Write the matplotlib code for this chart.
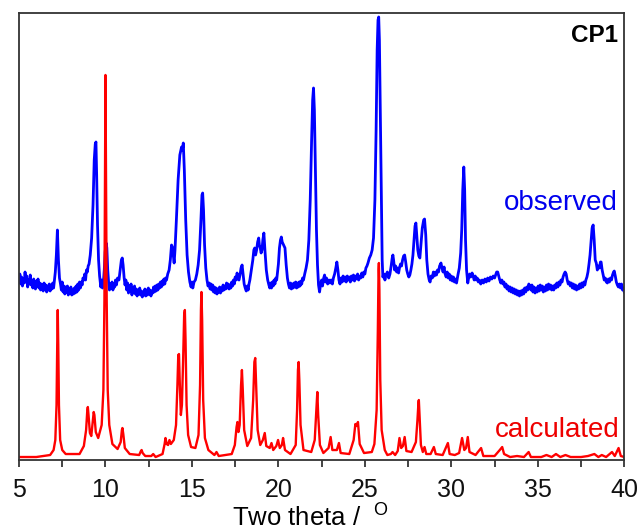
import matplotlib
matplotlib.use("Agg")
import matplotlib.pyplot as plt
from matplotlib.ticker import MultipleLocator

plt.rcParams["font.family"] = ["Liberation Sans", "DejaVu Sans"]
plt.rcParams["mathtext.fontset"] = "custom"
plt.rcParams["mathtext.rm"] = "Liberation Sans"

# 2theta (deg), intensity (arb. units)
observed = [
    (5.00, 180), (5.05, 186), (5.10, 176), (5.15, 183), (5.20, 174), (5.25, 181),
    (5.30, 177), (5.35, 188), (5.40, 178), (5.45, 184), (5.50, 173), (5.55, 180),
    (5.60, 176), (5.65, 185), (5.70, 175), (5.75, 179), (5.80, 172), (5.85, 181),
    (5.90, 176), (5.95, 171), (6.00, 179), (6.05, 174), (6.10, 181), (6.15, 172),
    (6.20, 177), (6.25, 170), (6.30, 176), (6.35, 173), (6.40, 169), (6.45, 177),
    (6.50, 171), (6.55, 175), (6.60, 168), (6.65, 174), (6.70, 170), (6.75, 176),
    (6.80, 169), (6.85, 175), (6.90, 171), (6.95, 177), (7.00, 172), (7.05, 180),
    (7.10, 188), (7.16, 205), (7.22, 230), (7.28, 200), (7.34, 182), (7.40, 176),
    (7.45, 170), (7.50, 178), (7.55, 168), (7.60, 174), (7.65, 166), (7.70, 173),
    (7.75, 168), (7.80, 174), (7.85, 165), (7.90, 171), (7.95, 167), (8.00, 173),
    (8.05, 165), (8.10, 170), (8.15, 166), (8.20, 172), (8.25, 167), (8.30, 174),
    (8.35, 168), (8.40, 176), (8.45, 170), (8.50, 178), (8.55, 172), (8.60, 178),
    (8.65, 175), (8.70, 182), (8.75, 180), (8.80, 186), (8.85, 180), (8.90, 190),
    (8.95, 188), (9.00, 194), (9.05, 196), (9.12, 205), (9.20, 222), (9.28, 255),
    (9.35, 300), (9.41, 316), (9.45, 318), (9.49, 285), (9.54, 235), (9.60, 200),
    (9.66, 184), (9.73, 173), (9.78, 180), (9.83, 172), (9.88, 178), (9.93, 190),
    (9.98, 208), (10.04, 217), (10.08, 212), (10.13, 190), (10.18, 178), (10.23, 170),
    (10.28, 176), (10.33, 172), (10.38, 178), (10.43, 170), (10.48, 176), (10.53, 173),
    (10.58, 180), (10.63, 175), (10.70, 182), (10.78, 180), (10.85, 190), (10.92, 200),
    (10.97, 202), (11.02, 195), (11.08, 182), (11.13, 175), (11.18, 180), (11.23, 170),
    (11.28, 177), (11.33, 167), (11.38, 174), (11.43, 169), (11.48, 176), (11.53, 165),
    (11.58, 172), (11.63, 168), (11.68, 174), (11.73, 166), (11.78, 171), (11.83, 164),
    (11.88, 170), (11.93, 166), (11.98, 172), (12.03, 165), (12.08, 169), (12.13, 163),
    (12.18, 168), (12.23, 165), (12.28, 171), (12.33, 164), (12.38, 170), (12.43, 165),
    (12.48, 172), (12.53, 166), (12.58, 170), (12.63, 164), (12.68, 169), (12.73, 167),
    (12.78, 173), (12.83, 168), (12.88, 174), (12.93, 169), (12.98, 175), (13.03, 170),
    (13.08, 176), (13.13, 172), (13.18, 178), (13.23, 173), (13.28, 179), (13.33, 175),
    (13.38, 181), (13.43, 176), (13.48, 182), (13.53, 180), (13.60, 186), (13.68, 190),
    (13.75, 200), (13.82, 215), (13.87, 213), (13.92, 205), (13.97, 197), (14.02, 210),
    (14.10, 240), (14.20, 280), (14.30, 305), (14.40, 313), (14.45, 310), (14.50, 317),
    (14.56, 290), (14.64, 240), (14.72, 205), (14.80, 188), (14.88, 178), (14.95, 173),
    (15.00, 178), (15.05, 172), (15.12, 178), (15.20, 180), (15.28, 186), (15.36, 195),
    (15.44, 210), (15.52, 240), (15.58, 265), (15.62, 267), (15.67, 250), (15.73, 215),
    (15.80, 192), (15.87, 180), (15.93, 174), (16.00, 177), (16.05, 171), (16.10, 176),
    (16.15, 170), (16.20, 175), (16.25, 168), (16.30, 173), (16.35, 167), (16.40, 172),
    (16.45, 166), (16.50, 171), (16.55, 168), (16.60, 173), (16.65, 167), (16.70, 172),
    (16.75, 169), (16.80, 175), (16.85, 170), (16.90, 174), (16.95, 171), (17.00, 177),
    (17.05, 172), (17.10, 176), (17.15, 171), (17.20, 175), (17.25, 172), (17.30, 178),
    (17.35, 174), (17.40, 180), (17.45, 176), (17.50, 183), (17.56, 180), (17.61, 187),
    (17.66, 182), (17.72, 180), (17.78, 185), (17.84, 192), (17.90, 195), (17.96, 185),
    (18.02, 176), (18.08, 172), (18.14, 169), (18.20, 174), (18.25, 170), (18.30, 176),
    (18.35, 180), (18.40, 186), (18.45, 192), (18.52, 200), (18.58, 210), (18.63, 212),
    (18.68, 205), (18.74, 210), (18.80, 218), (18.86, 222), (18.90, 215), (18.95, 212),
    (19.00, 207), (19.05, 210), (19.10, 220), (19.16, 227), (19.22, 210), (19.30, 190),
    (19.38, 180), (19.45, 175), (19.50, 172), (19.55, 177), (19.60, 172), (19.65, 178),
    (19.70, 174), (19.75, 180), (19.80, 176), (19.85, 182), (19.90, 180), (19.95, 188),
    (20.00, 196), (20.06, 212), (20.12, 220), (20.17, 223), (20.22, 218), (20.30, 215),
    (20.38, 212), (20.45, 195), (20.52, 182), (20.58, 176), (20.64, 172), (20.70, 177),
    (20.75, 171), (20.80, 176), (20.85, 172), (20.90, 177), (20.95, 173), (21.00, 178),
    (21.05, 172), (21.10, 177), (21.15, 173), (21.20, 178), (21.25, 174), (21.30, 179),
    (21.35, 176), (21.40, 182), (21.45, 180), (21.52, 186), (21.60, 192), (21.68, 200),
    (21.76, 220), (21.84, 260), (21.92, 320), (21.98, 360), (22.03, 372), (22.08, 350),
    (22.14, 290), (22.20, 230), (22.26, 195), (22.32, 175), (22.38, 168), (22.44, 176),
    (22.50, 180), (22.55, 174), (22.62, 182), (22.67, 185), (22.72, 178), (22.78, 182),
    (22.85, 176), (22.92, 180), (22.98, 177), (23.05, 180), (23.12, 176), (23.18, 182),
    (23.25, 186), (23.32, 192), (23.38, 198), (23.44, 190), (23.50, 180), (23.56, 176),
    (23.62, 182), (23.68, 178), (23.74, 184), (23.80, 179), (23.86, 183), (23.92, 178),
    (23.98, 184), (24.04, 180), (24.10, 183), (24.16, 178), (24.22, 184), (24.28, 180),
    (24.34, 185), (24.40, 179), (24.46, 184), (24.52, 181), (24.58, 186), (24.64, 180),
    (24.70, 184), (24.76, 182), (24.82, 187), (24.88, 183), (24.94, 188), (25.00, 186),
    (25.06, 192), (25.12, 194), (25.18, 197), (25.26, 202), (25.34, 205), (25.42, 210),
    (25.50, 222), (25.58, 260), (25.65, 330), (25.71, 410), (25.76, 440), (25.80, 443),
    (25.84, 420), (25.89, 350), (25.95, 260), (26.00, 200), (26.04, 183), (26.10, 186),
    (26.16, 180), (26.22, 185), (26.30, 188), (26.38, 182), (26.45, 186), (26.52, 194),
    (26.58, 202), (26.62, 205), (26.66, 200), (26.72, 190), (26.78, 194), (26.84, 188),
    (26.90, 192), (26.95, 187), (27.00, 192), (27.06, 196), (27.12, 194), (27.18, 200),
    (27.24, 204), (27.30, 205), (27.36, 198), (27.42, 190), (27.48, 186), (27.54, 183),
    (27.60, 185), (27.66, 190), (27.72, 196), (27.78, 205), (27.84, 220), (27.90, 234),
    (27.95, 237), (28.00, 225), (28.06, 210), (28.12, 204), (28.18, 202), (28.24, 215),
    (28.32, 232), (28.40, 240), (28.45, 241), (28.52, 225), (28.58, 200), (28.65, 186),
    (28.72, 180), (28.77, 178), (28.83, 184), (28.90, 182), (28.96, 188), (29.02, 184),
    (29.08, 188), (29.14, 185), (29.20, 190), (29.26, 188), (29.32, 194), (29.40, 197),
    (29.46, 192), (29.52, 188), (29.58, 193), (29.64, 186), (29.70, 183), (29.76, 188),
    (29.82, 182), (29.88, 186), (29.94, 180), (30.00, 184), (30.06, 179), (30.12, 183),
    (30.18, 178), (30.24, 181), (30.30, 177), (30.38, 185), (30.46, 192), (30.54, 207),
    (30.60, 230), (30.66, 270), (30.72, 293), (30.77, 270), (30.82, 220), (30.88, 190),
    (30.95, 177), (31.00, 182), (31.06, 186), (31.12, 183), (31.20, 187), (31.26, 184),
    (31.32, 180), (31.38, 184), (31.44, 180), (31.50, 182), (31.56, 178), (31.62, 180),
    (31.70, 176), (31.78, 180), (31.86, 177), (31.94, 181), (32.02, 178), (32.10, 182),
    (32.18, 179), (32.26, 183), (32.34, 181), (32.42, 184), (32.50, 182), (32.56, 185),
    (32.62, 188), (32.68, 188), (32.74, 184), (32.80, 180), (32.86, 177), (32.92, 180),
    (32.98, 176), (33.04, 178), (33.10, 173), (33.16, 176), (33.22, 171), (33.28, 174),
    (33.34, 169), (33.40, 173), (33.46, 168), (33.52, 172), (33.58, 167), (33.64, 171),
    (33.70, 166), (33.76, 170), (33.82, 165), (33.88, 169), (33.94, 164), (34.00, 169),
    (34.06, 165), (34.12, 170), (34.18, 166), (34.24, 172), (34.30, 168), (34.36, 173),
    (34.42, 170), (34.48, 176), (34.54, 174), (34.60, 170), (34.66, 175), (34.72, 168),
    (34.78, 173), (34.84, 167), (34.90, 172), (34.96, 168), (35.02, 174), (35.08, 169),
    (35.14, 175), (35.20, 170), (35.26, 174), (35.32, 168), (35.38, 173), (35.44, 169),
    (35.50, 175), (35.56, 170), (35.62, 176), (35.68, 171), (35.74, 175), (35.80, 170),
    (35.86, 174), (35.92, 170), (35.98, 175), (36.04, 172), (36.10, 177), (36.16, 173),
    (36.22, 178), (36.28, 175), (36.34, 180), (36.40, 178), (36.46, 183), (36.52, 186),
    (36.58, 188), (36.64, 186), (36.70, 180), (36.76, 176), (36.82, 178), (36.88, 174),
    (36.94, 177), (37.00, 172), (37.06, 176), (37.12, 171), (37.18, 175), (37.24, 170),
    (37.30, 174), (37.36, 171), (37.42, 176), (37.48, 172), (37.54, 177), (37.60, 173),
    (37.66, 178), (37.72, 175), (37.78, 180), (37.84, 183), (37.90, 188), (37.96, 196),
    (38.02, 205), (38.08, 218), (38.14, 232), (38.20, 235), (38.26, 220), (38.32, 200),
    (38.38, 197), (38.44, 190), (38.50, 194), (38.56, 192), (38.62, 198), (38.66, 198),
    (38.72, 190), (38.78, 185), (38.84, 180), (38.90, 182), (38.96, 178), (39.02, 177),
    (39.08, 181), (39.14, 178), (39.20, 182), (39.26, 180), (39.32, 185), (39.38, 188),
    (39.42, 189), (39.48, 184), (39.54, 178), (39.60, 175), (39.66, 173), (39.72, 176),
    (39.78, 172), (39.84, 176), (39.90, 170), (39.96, 172), (40.00, 168),
]

calculated = [
    (5.00, 3), (6.00, 3), (6.80, 5), (7.00, 10), (7.10, 20), (7.17, 55), (7.21, 115),
    (7.24, 150), (7.27, 115), (7.31, 55), (7.38, 20), (7.50, 10), (7.70, 6), (8.50, 6),
    (8.75, 14), (8.88, 30), (8.95, 50), (8.98, 53), (9.02, 45), (9.10, 27), (9.18, 24),
    (9.27, 40), (9.32, 48), (9.36, 45), (9.44, 28), (9.58, 22), (9.78, 35), (9.88, 70),
    (9.94, 160), (9.97, 280), (10.00, 385), (10.03, 290), (10.07, 160), (10.13, 70),
    (10.22, 35), (10.40, 16), (10.70, 11), (10.88, 18), (10.95, 30), (10.98, 32),
    (11.03, 26), (11.12, 12), (11.40, 6), (11.95, 5), (12.05, 9), (12.09, 10),
    (12.15, 7), (12.30, 4), (12.65, 4), (12.76, 6), (12.90, 3), (13.30, 6), (13.42, 16),
    (13.47, 22), (13.54, 16), (13.62, 15), (13.70, 20), (13.78, 16), (13.95, 20),
    (14.08, 35), (14.16, 75), (14.21, 105), (14.25, 106), (14.30, 75), (14.36, 45),
    (14.42, 55), (14.49, 100), (14.55, 145), (14.59, 150), (14.63, 120), (14.69, 55),
    (14.78, 25), (14.95, 13), (15.20, 12), (15.38, 25), (15.47, 75), (15.52, 150),
    (15.55, 168), (15.59, 140), (15.65, 60), (15.75, 22), (15.95, 10), (16.30, 5),
    (16.42, 8), (16.55, 4), (17.30, 6), (17.48, 15), (17.58, 33), (17.63, 38),
    (17.69, 28), (17.76, 35), (17.84, 75), (17.89, 90), (17.94, 70), (18.02, 30),
    (18.20, 14), (18.42, 22), (18.54, 60), (18.61, 98), (18.66, 102), (18.72, 70),
    (18.80, 30), (18.95, 15), (19.10, 20), (19.21, 27), (19.30, 14), (19.50, 12),
    (19.60, 17), (19.70, 10), (19.88, 14), (19.98, 20), (20.08, 12), (20.20, 15),
    (20.27, 22), (20.38, 10), (20.70, 6), (21.00, 15), (21.08, 50), (21.13, 90),
    (21.17, 98), (21.21, 80), (21.28, 35), (21.45, 10), (21.90, 8), (22.10, 20),
    (22.19, 50), (22.25, 68), (22.30, 45), (22.40, 15), (22.60, 7), (22.90, 12),
    (23.02, 23), (23.12, 10), (23.38, 10), (23.50, 17), (23.60, 7), (24.10, 6),
    (24.35, 20), (24.45, 36), (24.52, 34), (24.60, 38), (24.70, 16), (24.95, 7),
    (25.40, 8), (25.55, 16), (25.68, 50), (25.75, 130), (25.79, 190), (25.81, 197),
    (25.84, 170), (25.89, 80), (25.97, 30), (26.15, 10), (26.30, 5), (26.50, 6),
    (26.60, 8), (26.75, 5), (26.90, 9), (27.00, 22), (27.10, 12), (27.20, 14),
    (27.30, 23), (27.40, 9), (27.70, 8), (27.95, 18), (28.04, 40), (28.10, 58),
    (28.12, 60), (28.16, 45), (28.24, 15), (28.35, 8), (28.45, 13), (28.55, 6),
    (28.80, 6), (28.99, 13), (29.10, 6), (29.50, 5), (29.80, 17), (29.90, 6),
    (30.20, 5), (30.45, 7), (30.62, 22), (30.75, 10), (30.85, 12), (30.95, 23),
    (31.05, 8), (31.40, 5), (31.72, 12), (31.85, 4), (32.50, 4), (32.80, 10),
    (32.94, 13), (33.05, 6), (33.40, 3), (33.80, 4), (34.20, 3), (34.47, 8), (34.60, 3),
    (35.20, 3), (35.50, 5), (35.80, 3), (36.05, 6), (36.30, 3), (36.60, 5), (36.90, 3),
    (37.50, 3), (37.90, 4), (38.27, 6), (38.50, 3), (38.70, 5), (38.95, 3), (39.29, 8),
    (39.45, 4), (39.67, 12), (39.80, 4), (40.00, 3),
]

obs_x, obs_y = zip(*observed)
calc_x, calc_y = zip(*calculated)

fig = plt.figure(figsize=(6.42, 5.32), dpi=100)
ax = fig.add_axes([0.0296, 0.1353, 0.9428, 0.8403])

ax.plot(obs_x, obs_y, color="#0000ff", linewidth=2.0)
ax.plot(calc_x, calc_y, color="#ff0000", linewidth=1.7)

ax.set_xlim(5, 40)
ax.set_ylim(0, 447)
ax.xaxis.set_major_locator(MultipleLocator(5))
ax.xaxis.set_minor_locator(MultipleLocator(2.5))
ax.set_yticks([])
ax.tick_params(axis="x", which="both", direction="out", length=5, width=1.1,
               labelsize=18, pad=8, colors="#111111")
for s in ax.spines.values():
    s.set_linewidth(1.3)
    s.set_color("#333333")

ax.set_xlabel("Two theta /  $^{\\mathregular{O}}$", fontsize=18.5)
ax.xaxis.set_label_coords(0.481, -0.146, transform=ax.transAxes)
ax.xaxis.label.set_verticalalignment("baseline")

ax.text(0.9896, 0.936, "CP1", transform=ax.transAxes, ha="right",
        va="baseline", fontsize=17.5, fontweight="bold")
ax.text(0.9896, 0.559, "observed", transform=ax.transAxes, ha="right",
        va="baseline", fontsize=20, color="#0000ee")
ax.text(0.992, 0.052, "calculated", transform=ax.transAxes, ha="right",
        va="baseline", fontsize=20, color="#ee0000")

fig.savefig("out.png", dpi=100)
